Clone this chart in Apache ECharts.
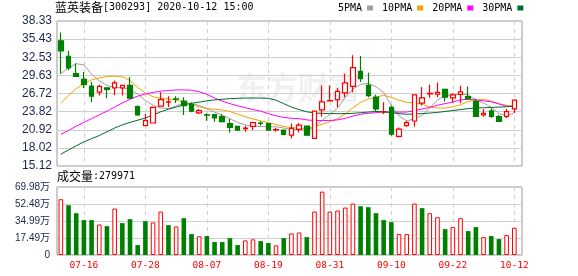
<!DOCTYPE html>
<html><head><meta charset="utf-8">
<script src="https://cdn.jsdelivr.net/npm/echarts@6/dist/echarts.min.js"></script>
<style>html,body{margin:0;padding:0;background:#fff}#c{width:578px;height:276px}</style>
</head><body><div id="c"></div>
<script>
const stockName = '蓝英装备';
const stockCode = '[300293] 2020-10-12 15:00';
const dates = ['07-13','07-14','07-15','07-16','07-17','07-20','07-21','07-22','07-23','07-24','07-27','07-28','07-29','07-30','07-31','08-03','08-04','08-05','08-06','08-07','08-10','08-11','08-12','08-13','08-14','08-17','08-18','08-19','08-20','08-21','08-24','08-25','08-26','08-27','08-28','08-31','09-01','09-02','09-03','09-04','09-07','09-08','09-09','09-10','09-11','09-14','09-15','09-16','09-17','09-18','09-21','09-22','09-23','09-24','09-25','09-28','09-29','09-30','10-09','10-12'];
const labelIdx = [3, 11, 19, 27, 35, 43, 51, 59];
const openP = [35.16,32.69,29.90,28.98,27.91,26.94,27.64,27.64,27.64,28.01,24.63,21.57,22.00,24.69,25.36,25.88,25.49,24.95,23.61,23.32,23.34,23.02,21.89,21.46,21.10,21.46,21.98,21.89,20.88,20.87,20.06,20.98,21.51,19.53,24.09,25.55,25.76,26.83,27.85,30.27,28.01,26.14,23.73,24.52,19.85,21.57,22.32,25.17,26.68,26.62,27.37,26.03,26.57,26.24,25.44,23.29,23.93,23.02,23.07,24.25];
const closeP = [33.55,30.81,29.47,28.18,26.30,27.85,27.37,28.44,28.01,25.97,23.29,22.37,24.52,25.76,25.40,25.84,24.79,23.88,23.98,23.26,22.80,22.21,21.30,20.87,21.17,22.05,21.92,20.87,20.94,20.17,21.14,21.67,20.06,23.90,25.38,25.60,27.05,28.44,30.86,29.09,26.40,24.25,23.80,20.22,21.03,22.05,26.51,26.03,26.73,26.89,26.14,26.51,26.99,25.87,23.07,23.55,23.07,22.27,23.82,25.65];
const lowP = [29.90,30.43,29.36,27.59,25.33,26.40,25.97,26.46,26.40,25.90,23.18,21.57,22.00,24.69,24.52,25.22,23.29,23.72,23.45,22.37,22.21,22.10,20.49,20.76,20.60,20.87,21.57,20.76,20.60,20.06,19.53,20.49,19.96,19.53,23.02,25.50,24.52,26.14,26.94,28.55,26.14,23.82,23.45,19.96,19.69,21.41,21.46,24.79,26.03,26.14,25.44,25.33,25.17,25.76,22.96,23.02,22.86,22.27,22.75,23.61];
const highP = [36.50,33.55,31.51,30.16,28.55,28.12,27.74,28.82,28.01,29.36,24.79,23.45,24.63,26.94,26.30,26.30,26.14,25.33,24.25,23.56,23.45,23.45,22.64,21.57,21.57,22.21,22.27,21.94,21.24,20.98,21.94,22.00,21.57,23.99,28.01,28.01,27.59,29.90,32.85,32.74,30.06,26.51,25.33,24.79,21.30,22.37,26.51,27.75,28.12,28.50,27.53,26.78,27.96,27.85,25.87,24.25,24.36,23.34,24.25,25.65];
const prevCloseBeforeFirst = 31.50;
const ma5 = [29.90,30.80,31.50,31.30,29.80,28.75,28.00,27.70,27.65,27.40,26.60,25.60,24.85,24.40,24.30,24.75,25.20,25.10,24.80,24.35,23.75,23.25,22.70,22.10,21.70,21.50,21.45,21.40,21.40,21.20,21.00,20.95,20.80,21.40,22.45,23.35,24.40,26.10,27.45,28.20,28.35,27.80,26.90,24.75,23.15,22.30,22.70,23.20,24.45,25.65,26.45,26.45,26.65,26.50,25.70,25.20,24.50,23.55,23.15,23.65];
const ma10 = [25.20,26.40,27.50,28.30,28.90,29.20,29.45,29.50,29.40,28.80,27.70,26.80,26.20,25.95,25.85,25.65,25.40,25.00,24.60,24.30,24.20,24.10,23.85,23.40,23.00,22.65,22.35,22.05,21.75,21.45,21.25,21.20,21.10,21.40,21.80,22.20,22.70,23.45,24.45,25.30,25.85,26.10,26.45,26.10,25.65,25.30,25.25,25.00,24.60,24.40,24.40,24.60,24.90,25.45,25.65,25.80,25.50,25.10,24.80,24.70];
const ma20 = [20.20,20.80,21.50,22.10,22.70,23.30,23.90,24.55,25.20,25.80,26.30,26.65,26.90,27.10,27.20,27.30,27.30,27.25,27.00,26.60,26.00,25.50,25.10,24.75,24.45,24.15,23.90,23.50,23.15,22.90,22.75,22.70,22.50,22.40,22.40,22.40,22.50,22.75,23.10,23.40,23.55,23.65,23.80,23.75,23.75,23.75,24.00,24.25,24.50,24.85,25.10,25.35,25.70,25.80,25.70,25.55,25.40,25.05,24.70,24.55];
const ma30 = [17.00,17.70,18.35,19.00,19.50,20.00,20.60,21.20,21.70,22.10,22.45,22.80,23.30,23.80,24.20,24.55,24.90,25.15,25.35,25.55,25.70,25.80,25.90,25.95,26.00,26.00,26.00,25.95,25.65,25.10,24.55,24.15,23.80,23.60,23.55,23.50,23.50,23.50,23.55,23.65,23.75,23.85,23.80,23.65,23.50,23.40,23.45,23.50,23.60,23.70,23.85,24.00,24.15,24.30,24.40,24.45,24.50,24.55,24.60,24.75];
const volumes = [574000,512000,430000,359000,359000,314000,297000,478000,328000,369000,102000,348000,335000,447000,307000,294000,379000,215000,193000,195000,133000,133000,174000,102000,150000,161000,143000,123000,99000,174000,222000,232000,184000,447000,652000,447000,458000,488000,529000,502000,492000,430000,359000,338000,215000,215000,529000,482000,430000,389000,266000,287000,379000,246000,287000,184000,195000,164000,205000,279971];
const maNames = ['5PMA','10PMA','20PMA','30PMA'];
const maColors = ['#a0a0a0','#f5a300','#ff00ff','#006b30'];
const priceTicks = ['15.12','18.02','20.92','23.82','26.72','29.63','32.53','35.43','38.33'];
const priceMin = 15.12, priceMax = 38.33, priceStep = 2.90125;
const volTicks = ['0','17.49万','34.99万','52.48万','69.98万'];
const volMax = 699800, volStep = 174950;

const UP = '#ff0000', DOWN = '#008000';
const monoFont = '"DejaVu Sans Mono", "Noto Sans CJK SC", monospace';
const candleData = dates.map((d, i) => [i, openP[i], closeP[i], lowP[i], highP[i]]);
const volData = volumes.map((v, i) => {
  const prev = i === 0 ? prevCloseBeforeFirst : closeP[i - 1];
  const up = closeP[i] >= prev;
  return {
    value: [i, v],
    itemStyle: up ? { color: '#ffffff', borderColor: UP, borderWidth: 1 } : { color: DOWN, borderWidth: 0 }
  };
});
const maArrays = [ma5, ma10, ma20, ma30];

const chart = echarts.init(document.getElementById('c'), null, { renderer: 'canvas' });
const gridLine = { show: true, lineStyle: { color: '#cfcfcf', width: 1 } };
const dashLine = { show: true, lineStyle: { color: '#cfcfcf', width: 1, type: [4, 4] } };
const richTitle = {
  a: { fontFamily: '"Noto Sans CJK SC"', fontSize: 12, fontWeight: 'normal', color: '#000' },
  b: { fontFamily: monoFont, fontSize: 10, fontWeight: 'normal', color: '#000' }
};
chart.setOption({
  animation: false,
  backgroundColor: '#ffffff',
  title: [
    { left: 55, top: 1, padding: 0, text: '{a|' + stockName + '}{b|' + stockCode + '}',
      textStyle: { fontWeight: 'normal', rich: richTitle } },
    { left: 57, top: 170, padding: 0, text: '{a|成交量}{b|:' + volumes[volumes.length - 1] + '}',
      textStyle: { fontWeight: 'normal', rich: richTitle } }
  ],
  legend: {
    top: 3, left: 338, align: 'right', icon: 'rect', itemWidth: 6, itemHeight: 5, itemGap: 9, padding: 0,
    textStyle: { fontFamily: monoFont, fontSize: 10, color: '#000' },
    data: maNames
  },
  graphic: [{
    type: 'text', left: 236, top: 72, z: -10, silent: true,
    style: { text: '东方财富', font: 'bold 31px "Noto Sans CJK SC"', fill: 'rgba(0,0,0,0.06)' }
  }],
  grid: [
    { left: 57, top: 21, width: 465, height: 145, show: true, borderColor: '#999', borderWidth: 1 },
    { left: 57, top: 187, width: 465, height: 68, show: true, borderColor: '#999', borderWidth: 1 }
  ],
  xAxis: [
    { type: 'value', gridIndex: 0, min: -0.5, max: 60, axisLine: { show: false },
      axisTick: { show: false, customValues: labelIdx }, axisLabel: { show: false, customValues: labelIdx },
      splitLine: dashLine },
    { type: 'value', gridIndex: 1, min: -0.5, max: 60, axisLine: { show: false },
      axisTick: { show: false, customValues: labelIdx },
      axisLabel: { customValues: labelIdx, color: '#ff0000', fontFamily: monoFont, fontSize: 9.5, margin: 6,
        formatter: v => dates[Math.round(v)] },
      splitLine: dashLine }
  ],
  yAxis: [
    { type: 'value', gridIndex: 0, min: priceMin, max: priceMax, interval: priceStep, axisLine: { show: false }, axisTick: { show: false },
      axisLabel: { color: '#1c2550', fontFamily: '"Liberation Sans", Arial, sans-serif', fontSize: 12, margin: 5,
        formatter: v => priceTicks[Math.round((v - priceMin) / priceStep)] },
      splitLine: gridLine },
    { type: 'value', gridIndex: 1, min: 0, max: volMax, interval: volStep, axisLine: { show: false }, axisTick: { show: false },
      axisLabel: { color: '#1c2550', fontFamily: '"Liberation Sans", "Noto Sans CJK SC", sans-serif', fontSize: 10, margin: 7,
        formatter: v => volTicks[Math.round(v / volStep)] },
      splitLine: gridLine }
  ],
  series: [
    ...maArrays.map((arr, k) => ({
      name: maNames[k], type: 'line', xAxisIndex: 0, yAxisIndex: 0, showSymbol: false, symbol: 'none',
      data: arr.map((v, i) => [i, v]), lineStyle: { color: maColors[k], width: 1 }, itemStyle: { color: maColors[k] }, z: 2
    })),
    { type: 'candlestick', xAxisIndex: 0, yAxisIndex: 0, barWidth: 5, z: 3,
      data: candleData,
      itemStyle: { color: '#ffffff', color0: DOWN, borderColor: UP, borderColor0: DOWN, borderWidth: 1.2 } },
    { type: 'bar', xAxisIndex: 1, yAxisIndex: 1, barWidth: 4.6, data: volData, z: 3 }
  ]
});
</script></body></html>
